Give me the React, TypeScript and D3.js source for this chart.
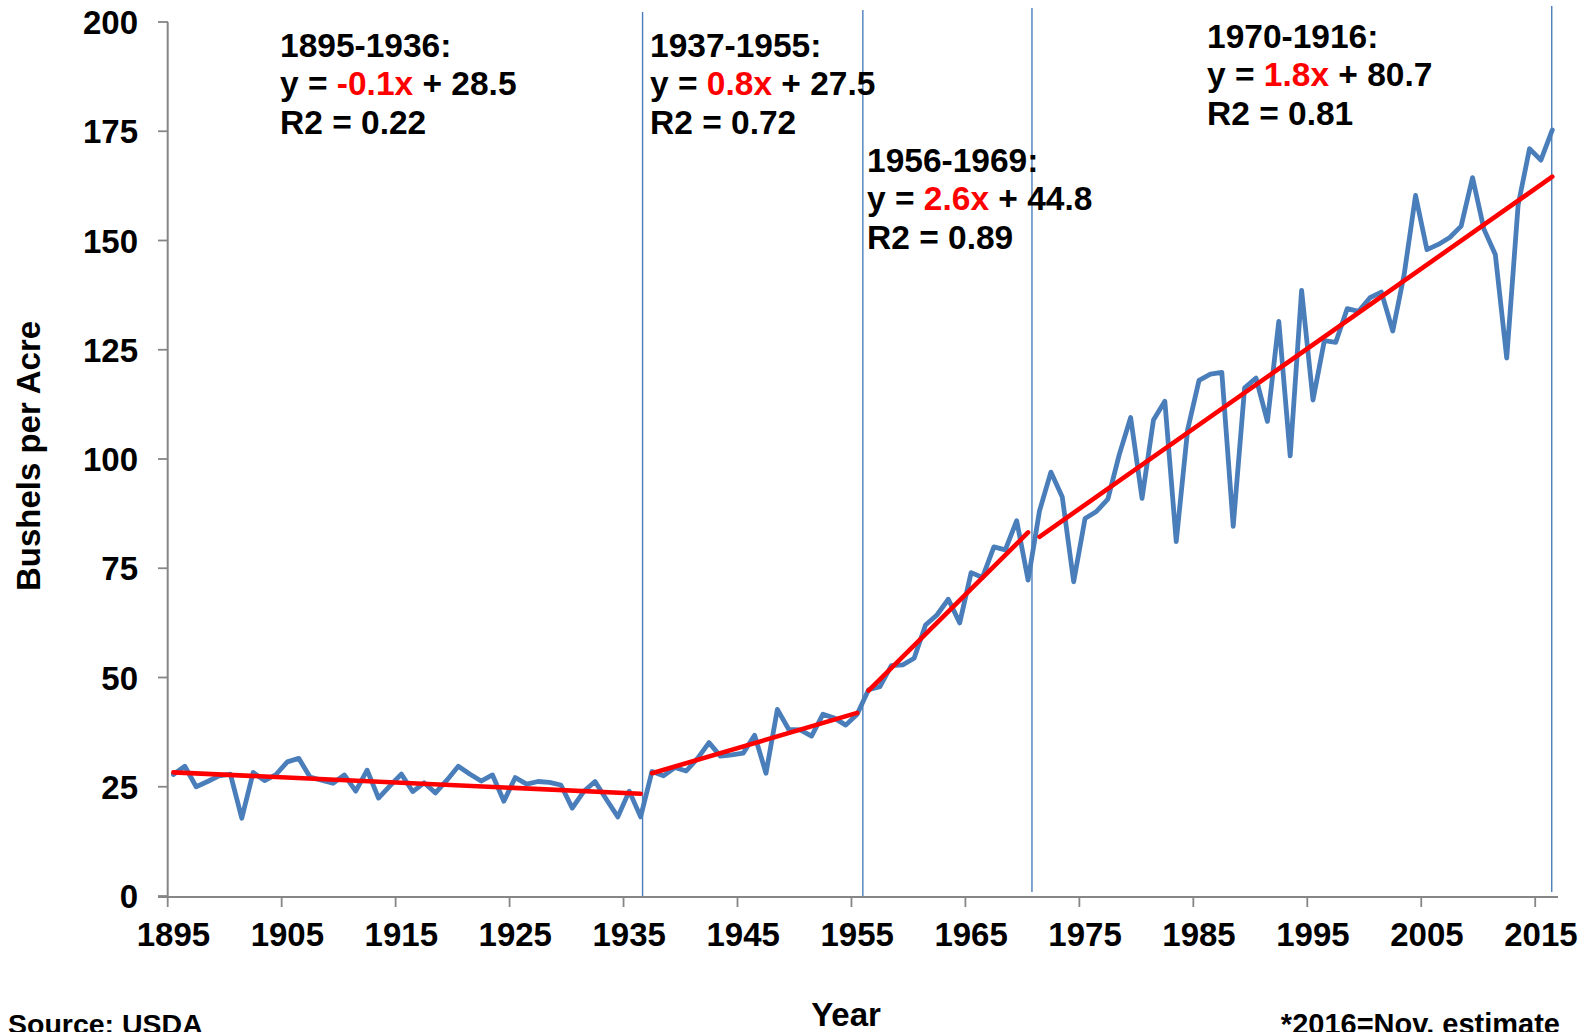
import React from "react";
import * as d3 from "d3";

const startYear = 1895;
const yields: number[] = [
  // 1895-1904
  27.8, 29.7, 25.0, 26.2, 27.5, 27.9, 17.8, 28.3, 26.4, 27.8,
  // 1905-1914
  30.7, 31.5, 27.2, 26.5, 25.8, 27.7, 24.0, 28.8, 22.4, 25.2,
  // 1915-1924
  27.9, 23.9, 25.9, 23.6, 26.5, 29.7, 27.9, 26.3, 27.7, 21.7,
  // 1925-1934
  27.1, 25.6, 26.2, 26.0, 25.4, 20.1, 23.9, 26.2, 22.1, 18.1,
  // 1935-1944
  24.0, 18.1, 28.5, 27.5, 29.4, 28.6, 31.5, 35.1, 32.0, 32.3,
  // 1945-1954
  32.7, 36.8, 28.1, 42.7, 38.1, 38.0, 36.6, 41.6, 40.7, 39.1,
  // 1955-1964
  41.6, 47.2, 47.9, 52.7, 52.9, 54.4, 62.0, 64.3, 67.9, 62.5,
  // 1965-1974
  74.0, 72.9, 79.9, 79.2, 85.9, 72.3, 88.1, 97.0, 91.3, 71.9,
  // 1975-1984
  86.4, 88.0, 90.8, 101.0, 109.5, 91.0, 108.9, 113.2, 81.1, 106.7,
  // 1985-1994
  118.0, 119.4, 119.8, 84.6, 116.3, 118.5, 108.6, 131.5, 100.7, 138.6,
  // 1995-2004
  113.5, 127.1, 126.7, 134.4, 133.8, 136.9, 138.2, 129.3, 142.2, 160.3,
  // 2005-2014
  147.9, 149.1, 150.7, 153.3, 164.4, 152.6, 146.8, 123.1, 158.1, 171.0,
  // 2015-2016
  168.4, 175.3,
];

const trendStartYears = [1895, 1937, 1956, 1971];
const trendEndYears = [1936, 1955, 1970, 2016];
const trendStartValues = [28.3, 28.1, 47.0, 82.2];
const trendEndValues = [23.4, 41.9, 83.2, 164.6];

const dividerYears = [1936.17, 1955.5, 1970.34, 2015.95];

const periodLabels = ["1895-1936:", "1937-1955:", "1956-1969:", "1970-1916:"];
const slopeLabels = ["-0.1x", "0.8x", "2.6x", "1.8x"];
const interceptLabels = [" + 28.5", " + 27.5", " + 44.8", " + 80.7"];
const r2Labels = ["R2 = 0.22", "R2 = 0.72", "R2 = 0.89", "R2 = 0.81"];

const yTicks = [0, 25, 50, 75, 100, 125, 150, 175, 200];
const xTickLabels = [1895, 1905, 1915, 1925, 1935, 1945, 1955, 1965, 1975, 1985, 1995, 2005, 2015];

const W = 1593;
const H = 1032;
const FONT = "'Liberation Sans', Arial, Helvetica, sans-serif";
const BLUE = "#4a7ebb";
const AXIS = "#868686";

export default function App() {
  const x = d3.scaleLinear().domain([startYear - 0.5, startYear + yields.length - 0.5]).range([167.7, 1558]);
  const y = d3.scaleLinear().domain([0, 200]).range([896, 22]);

  const points = yields.map((v, i) => ({ yr: startYear + i, v }));
  const line = d3
    .line<{ yr: number; v: number }>()
    .x((d) => x(d.yr))
    .y((d) => y(d.v));

  const annX = [280, 650, 867, 1207];
  const annY = [56.5, 56.5, 171.5, 47.5];
  const lh = 38.6;

  return (
    <svg
      width={W}
      height={H}
      style={{ position: "absolute", left: 0, top: 0, background: "#fff" }}
      fontFamily={FONT}
      fontWeight="bold"
    >
      <rect x={0} y={0} width={W} height={H} fill="#fff" />
      {/* dividers */}
      {dividerYears.map((d, i) => (
        <line
          key={"dv" + i}
          x1={x(d)}
          x2={x(d)}
          y1={12 - i * 2}
          y2={i < 2 ? 897 : 892}
          stroke={BLUE}
          strokeWidth={1.4}
        />
      ))}
      {/* axes */}
      <line x1={x.range()[0]} x2={x.range()[0]} y1={y(200)} y2={y(0)} stroke={AXIS} strokeWidth={2} />
      <line x1={158} x2={x.range()[1]} y1={y(0) + 1} y2={y(0) + 1} stroke={AXIS} strokeWidth={2} />
      {yTicks.map((t) => (
        <g key={"yt" + t}>
          <line x1={158} x2={168} y1={y(t)} y2={y(t)} stroke={AXIS} strokeWidth={1.8} />
          <text x={138} y={y(t) + 12} textAnchor="end" fontSize={33} fill="#000">
            {t}
          </text>
        </g>
      ))}
      {xTickLabels.map((yr) => (
        <g key={"xt" + yr}>
          <line
            x1={x(yr - 0.5)}
            x2={x(yr - 0.5)}
            y1={y(0)}
            y2={y(0) + 11}
            stroke={AXIS}
            strokeWidth={1.8}
          />
          <text x={x(yr)} y={945.5} textAnchor="middle" fontSize={33} fill="#000">
            {yr}
          </text>
        </g>
      ))}
      {/* data */}
      <path
        d={line(points) || ""}
        fill="none"
        stroke={BLUE}
        strokeWidth={4.8}
        strokeLinejoin="round"
        strokeLinecap="round"
      />
      {trendStartYears.map((s, i) => (
        <line
          key={"tr" + i}
          x1={x(s)}
          y1={y(trendStartValues[i])}
          x2={x(trendEndYears[i])}
          y2={y(trendEndValues[i])}
          stroke="#ff0000"
          strokeWidth={4.6}
          strokeLinecap="round"
        />
      ))}
      {/* annotations */}
      {periodLabels.map((p, i) => (
        <text key={"an" + i} x={annX[i]} y={annY[i]} fontSize={33.5} fill="#000">
          <tspan x={annX[i]} y={annY[i]}>
            {p}
          </tspan>
          <tspan x={annX[i]} y={annY[i] + lh}>
            {"y = "}
            <tspan fill="#ff0000">{slopeLabels[i]}</tspan>
            {interceptLabels[i]}
          </tspan>
          <tspan x={annX[i]} y={annY[i] + 2 * lh}>
            {r2Labels[i]}
          </tspan>
        </text>
      ))}
      {/* titles */}
      <text
        transform="translate(39.5,456) rotate(-90)"
        textAnchor="middle"
        fontSize={33}
        fill="#000"
      >
        Bushels per Acre
      </text>
      <text x={846} y={1026} textAnchor="middle" fontSize={33} fill="#000">
        Year
      </text>
      <text x={8} y={1034} fontSize={28.5} fill="#000">
        Source: USDA
      </text>
      <text x={1560} y={1034} textAnchor="end" fontSize={29} fill="#000">
        *2016=Nov. estimate
      </text>
    </svg>
  );
}
